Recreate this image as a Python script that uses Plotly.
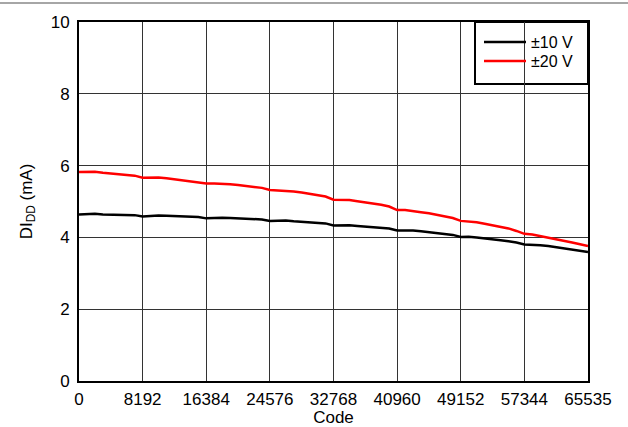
import plotly.graph_objects as go

codes = [0, 1024, 2048, 3072, 4096, 5120, 6144, 7168,
         8192, 9216, 10240, 11264, 12288, 13312, 14336, 15360,
         16384, 17408, 18432, 19456, 20480, 21504, 22528, 23552,
         24576, 25600, 26624, 27648, 28672, 29696, 30720, 31744,
         32768, 33792, 34816, 35840, 36864, 37888, 38912, 39936,
         40960, 41984, 43008, 44032, 45056, 46080, 47104, 48128,
         49152, 50176, 51200, 52224, 53248, 54272, 55296, 56320,
         57344, 58368, 59392, 60416, 61440, 62464, 63488, 64512, 65535]

didd_10v = [4.64, 4.65, 4.66, 4.64, 4.63, 4.64, 4.63, 4.62,
            4.58, 4.60, 4.61, 4.60, 4.59, 4.59, 4.58, 4.57,
            4.53, 4.55, 4.55, 4.54, 4.53, 4.52, 4.52, 4.50,
            4.46, 4.47, 4.47, 4.45, 4.44, 4.42, 4.41, 4.39,
            4.33, 4.34, 4.34, 4.32, 4.30, 4.29, 4.27, 4.25,
            4.19, 4.20, 4.19, 4.17, 4.15, 4.12, 4.10, 4.07,
            4.01, 4.02, 4.00, 3.98, 3.95, 3.92, 3.89, 3.86,
            3.80, 3.80, 3.78, 3.76, 3.73, 3.69, 3.66, 3.63, 3.59]

didd_20v = [5.82, 5.82, 5.83, 5.80, 5.78, 5.78, 5.76, 5.72,
            5.66, 5.67, 5.67, 5.65, 5.62, 5.60, 5.58, 5.55,
            5.50, 5.50, 5.50, 5.48, 5.46, 5.44, 5.42, 5.38,
            5.32, 5.31, 5.30, 5.28, 5.25, 5.22, 5.19, 5.14,
            5.05, 5.05, 5.04, 5.01, 4.98, 4.95, 4.91, 4.86,
            4.76, 4.76, 4.74, 4.70, 4.67, 4.63, 4.59, 4.54,
            4.46, 4.45, 4.42, 4.38, 4.34, 4.29, 4.25, 4.18,
            4.10, 4.08, 4.04, 4.00, 3.96, 3.91, 3.86, 3.81, 3.76]

x_ticks = [0, 8192, 16384, 24576, 32768, 40960, 49152, 57344, 65535]
y_ticks = [0, 2, 4, 6, 8, 10]

fig = go.Figure()
fig.add_trace(go.Scatter(x=codes, y=didd_10v, mode="lines", name="±10 V",
                         line=dict(color="black", width=2.5), legend="legend"))
fig.add_trace(go.Scatter(x=codes, y=didd_20v, mode="lines", name="±20 V",
                         line=dict(color="#ff0000", width=2.5), legend="legend2"))

FAM = "Liberation Sans, Arial, sans-serif"
font = dict(family=FAM, size=17, color="black")
lfont = dict(family=FAM, size=16, color="black")

L, R, T, B = 79, 40, 22, 46
PW, PH = 628 - L - R, 427 - T - B

leg_common = dict(x=(479 - L) / PW, xanchor="left", yanchor="middle",
                  bgcolor="rgba(0,0,0,0)", borderwidth=0, font=lfont, itemwidth=42)

fig.update_layout(
    width=628, height=427,
    margin=dict(l=L, r=R, t=T, b=B, autoexpand=False),
    paper_bgcolor="white", plot_bgcolor="white",
    font=font,
    showlegend=True,
    legend=dict(y=(381 - 42) / PH, **leg_common),
    legend2=dict(y=(381 - 61) / PH, **leg_common),
    xaxis=dict(range=[0, 65535], tickvals=x_ticks, ticktext=[str(v) for v in x_ticks],
               showgrid=True, gridcolor="#333333", gridwidth=1,
               showline=True, linecolor="black", linewidth=2, mirror=True,
               ticks="", zeroline=False, tickfont=font, ticklabelstandoff=2,
               title=dict(text="Code", standoff=14, font=font)),
    yaxis=dict(range=[0, 10], tickvals=y_ticks,
               showgrid=True, gridcolor="#333333", gridwidth=1,
               showline=True, linecolor="black", linewidth=2, mirror=True,
               ticks="", zeroline=False, tickfont=font, ticklabelstandoff=4,
               title=dict(text="DI<sub>DD</sub> (mA)", standoff=14, font=font)),
)

# legend frame
fig.add_shape(type="rect", xref="paper", yref="paper",
              x0=(475 - L) / PW, x1=1, y0=(381 - 84) / PH, y1=1,
              line=dict(color="black", width=2), fillcolor="white", layer="below")

# thin rule across the top of the page
fig.add_shape(type="line", xref="paper", yref="paper",
              x0=-L / PW, x1=(628 - L) / PW, y0=(381 - 3) / PH, y1=(381 - 3) / PH,
              line=dict(color="#888888", width=1.5))

fig.write_html("out.html", config={"displayModeBar": False},
               post_script="document.body.style.margin='0';")
